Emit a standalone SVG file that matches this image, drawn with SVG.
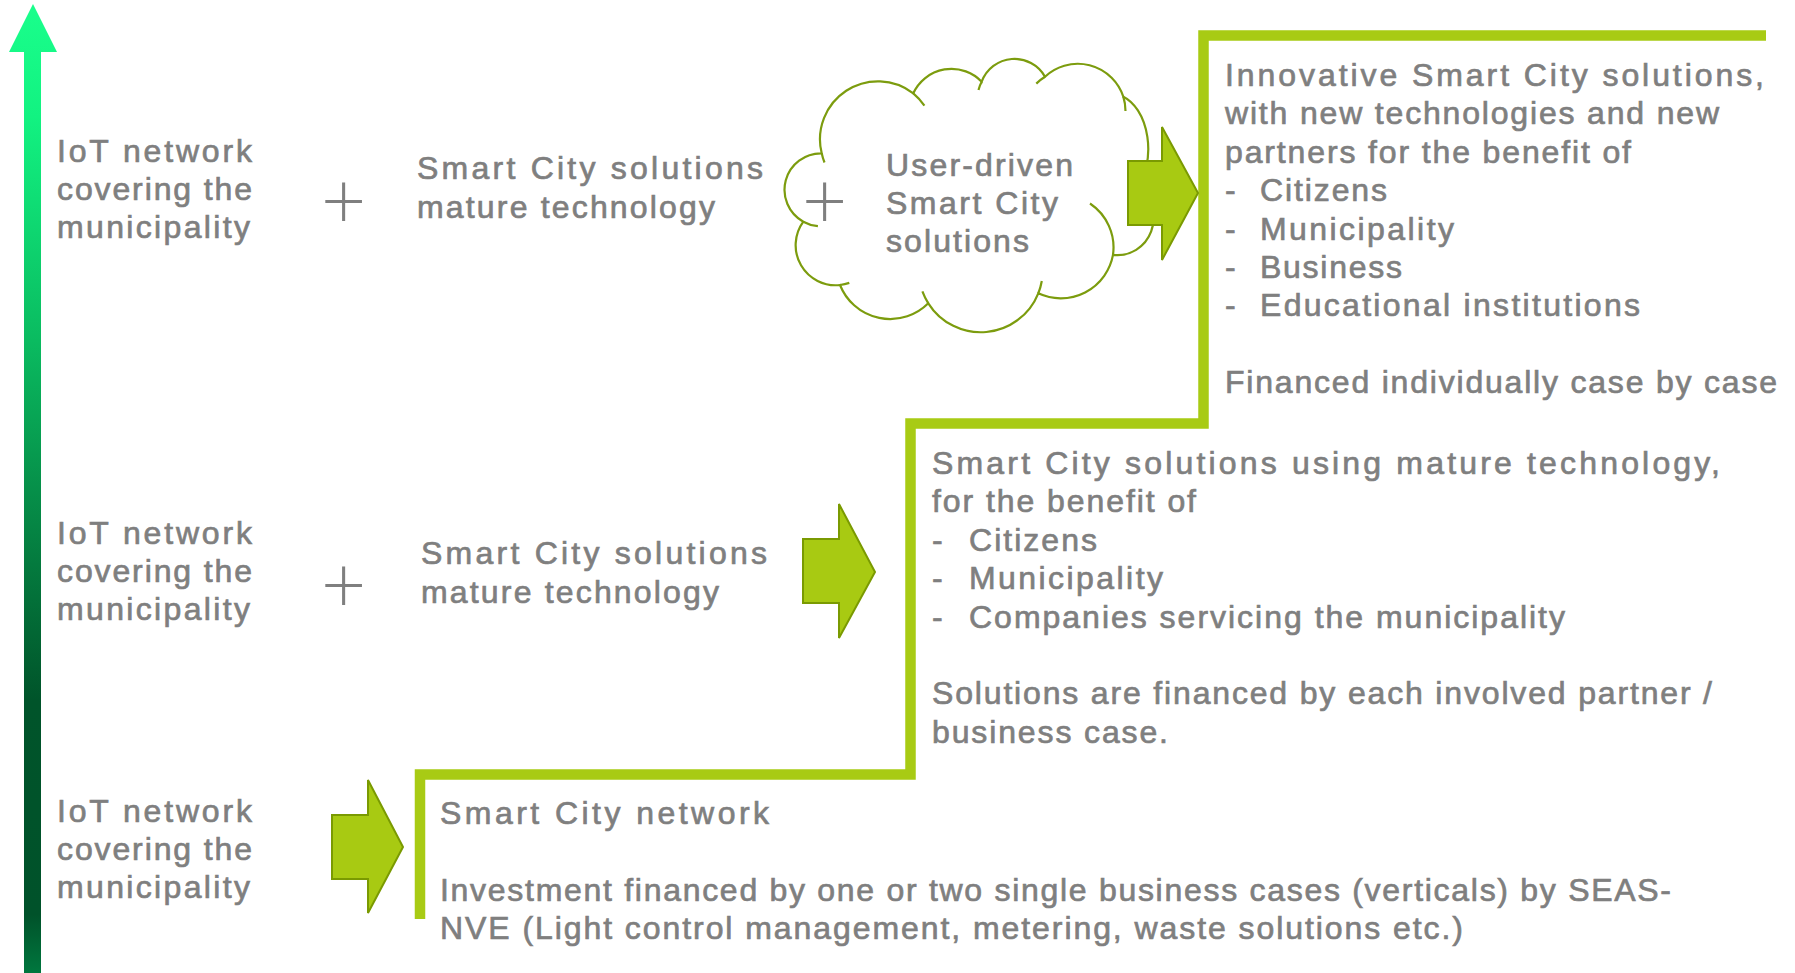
<svg xmlns="http://www.w3.org/2000/svg" width="1795" height="973" viewBox="0 0 1795 973">
<defs>
<linearGradient id="axisGrad" gradientUnits="userSpaceOnUse" x1="0" y1="0" x2="0" y2="973">
<stop offset="0" stop-color="#1AFF8C"/>
<stop offset="0.12" stop-color="#12F281"/>
<stop offset="0.35" stop-color="#0ABB60"/>
<stop offset="0.58" stop-color="#047A3E"/>
<stop offset="0.72" stop-color="#00542A"/>
<stop offset="0.94" stop-color="#00522A"/>
<stop offset="1" stop-color="#00773E"/>
</linearGradient>
<style>
.t{font-family:"Liberation Sans",Arial,sans-serif;font-size:32px;fill:#7F7F7F;stroke:#7F7F7F;stroke-width:0.7}
.plus{font-family:"Lato","Open Sans",sans-serif;font-weight:300;font-size:78px;fill:#7F7F7F;text-anchor:middle}
.blk{fill:#A8CA12;stroke:#7A9A01;stroke-width:2;stroke-linejoin:miter}
.cl{fill:none;stroke:#7C9C0E;stroke-width:2.2}
.step{fill:none;stroke:#A8CB14;stroke-width:10.5;stroke-linejoin:miter}
</style>
</defs>
<rect width="1795" height="973" fill="#FFFFFF"/>

<g id="axis-arrow">
<polygon points="24,973 24,52 9,52 33,4 57,52 41,52 41,973" fill="url(#axisGrad)"/>
</g>

<g id="connectors">
<path class="step" d="M 420 919 V 774.5 H 910.5 V 423.5 H 1203.5 V 35.5 H 1766"/>
</g>

<g id="row1-iot">
<text class="t" x="57" y="162" textLength="195" lengthAdjust="spacing">IoT network</text>
<text class="t" x="57" y="200" textLength="195" lengthAdjust="spacing">covering the</text>
<text class="t" x="57" y="238" textLength="193" lengthAdjust="spacing">municipality</text>
</g>
<g id="row1-plus"><text class="plus" x="343.5" y="228">+</text></g>
<g id="row1-mature">
<text class="t" x="417" y="179" textLength="346" lengthAdjust="spacing">Smart City solutions</text>
<text class="t" x="417" y="217.5" textLength="298" lengthAdjust="spacing">mature technology</text>
</g>

<g id="cloud">
<path d="M 803.3 221.7 A 36.5 36.5 0 0 1 821.7 153.3 A 58 58 0 0 1 913.3 93.3 A 42 42 0 0 1 981.7 81.7 A 35 35 0 0 1 1045 76.7 A 48 48 0 0 1 1123.3 96.7 A 36 55 0 0 1 1137 189 A 36 36 0 0 1 1113 254.9 A 53 53 0 0 1 1038.3 293.3 A 62 62 0 0 1 928.3 303.3 A 54 54 0 0 1 840 285 A 40 40 0 0 1 803.3 221.7 Z" class="cl" style="fill:#FFFFFF"/>
<path class="cl" d="M 821.7 153.3 A 58 58 0 0 0 824.5 162.5 M 913.3 93.3 A 58 58 0 0 1 924.4 105.7 M 981.7 81.7 A 35 35 0 0 0 978.5 89.9 M 1045 76.7 A 48 48 0 0 0 1036.3 83.6 M 1123.3 96.7 A 48 48 0 0 1 1125.5 111 M 1113 254.9 A 53 53 0 0 0 1090 203.5 M 1038.3 293.3 A 62 62 0 0 0 1041.8 281 M 928.3 303.3 A 62 62 0 0 1 922.4 291.4 M 840 285 A 40 40 0 0 0 849.3 282.9 M 803.3 221.7 A 36.5 36.5 0 0 0 817.9 226.2"/>
<text class="plus" x="824.5" y="228">+</text>
<text class="t" x="886" y="176" textLength="187" lengthAdjust="spacing">User-driven</text>
<text class="t" x="886" y="214" textLength="172" lengthAdjust="spacing">Smart City</text>
<text class="t" x="886" y="252" textLength="143" lengthAdjust="spacing">solutions</text>
</g>

<g id="arrow1"><polygon class="blk" points="1128,161 1162,161 1162,127 1198,193 1162,260 1162,225 1128,225"/></g>

<g id="box-top">
<text class="t" x="1225" y="86" textLength="539" lengthAdjust="spacing">Innovative Smart City solutions,</text>
<text class="t" x="1225" y="124.4" textLength="494" lengthAdjust="spacing">with new technologies and new</text>
<text class="t" x="1225" y="162.8" textLength="406" lengthAdjust="spacing">partners for the benefit of</text>
<text class="t" x="1225" y="201.2">-</text>
<text class="t" x="1260" y="201.2" textLength="127" lengthAdjust="spacing">Citizens</text>
<text class="t" x="1225" y="239.6">-</text>
<text class="t" x="1260" y="239.6" textLength="194" lengthAdjust="spacing">Municipality</text>
<text class="t" x="1225" y="278">-</text>
<text class="t" x="1260" y="278" textLength="142" lengthAdjust="spacing">Business</text>
<text class="t" x="1225" y="316.4">-</text>
<text class="t" x="1260" y="316.4" textLength="380" lengthAdjust="spacing">Educational institutions</text>
<text class="t" x="1225" y="393.2" textLength="552" lengthAdjust="spacing">Financed individually case by case</text>
</g>

<g id="row2-iot">
<text class="t" x="57" y="544" textLength="195" lengthAdjust="spacing">IoT network</text>
<text class="t" x="57" y="582" textLength="195" lengthAdjust="spacing">covering the</text>
<text class="t" x="57" y="620" textLength="193" lengthAdjust="spacing">municipality</text>
</g>
<g id="row2-plus"><text class="plus" x="343.5" y="612">+</text></g>
<g id="row2-mature">
<text class="t" x="421" y="564" textLength="346" lengthAdjust="spacing">Smart City solutions</text>
<text class="t" x="421" y="602.5" textLength="298" lengthAdjust="spacing">mature technology</text>
</g>

<g id="arrow2"><polygon class="blk" points="803,539 839,539 839,504 875,572 839,638 839,603 803,603"/></g>

<g id="box-middle">
<text class="t" x="932" y="474" textLength="788" lengthAdjust="spacing">Smart City solutions using mature technology,</text>
<text class="t" x="932" y="512.4" textLength="264" lengthAdjust="spacing">for the benefit of</text>
<text class="t" x="932" y="550.8">-</text>
<text class="t" x="969" y="550.8" textLength="128" lengthAdjust="spacing">Citizens</text>
<text class="t" x="932" y="589.2">-</text>
<text class="t" x="969" y="589.2" textLength="194" lengthAdjust="spacing">Municipality</text>
<text class="t" x="932" y="627.6">-</text>
<text class="t" x="969" y="627.6" textLength="596" lengthAdjust="spacing">Companies servicing the municipality</text>
<text class="t" x="932" y="704.4" textLength="780" lengthAdjust="spacing">Solutions are financed by each involved partner /</text>
<text class="t" x="932" y="742.8" textLength="236" lengthAdjust="spacing">business case.</text>
</g>

<g id="row3-iot">
<text class="t" x="57" y="822" textLength="195" lengthAdjust="spacing">IoT network</text>
<text class="t" x="57" y="860" textLength="195" lengthAdjust="spacing">covering the</text>
<text class="t" x="57" y="898" textLength="193" lengthAdjust="spacing">municipality</text>
</g>

<g id="arrow3"><polygon class="blk" points="332,815 368,815 368,780 403,847 368,913 368,879 332,879"/></g>

<g id="box-bottom">
<text class="t" x="440" y="824" textLength="329" lengthAdjust="spacing">Smart City network</text>
<text class="t" x="440" y="900.8" textLength="1231" lengthAdjust="spacing">Investment financed by one or two single business cases (verticals) by SEAS-</text>
<text class="t" x="440" y="939.2" textLength="1023" lengthAdjust="spacing">NVE (Light control management, metering, waste solutions etc.)</text>
</g>
</svg>
